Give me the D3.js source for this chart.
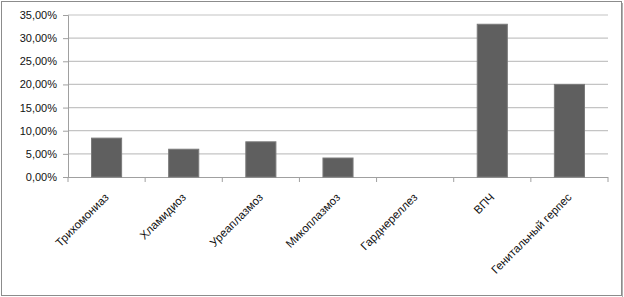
<!DOCTYPE html>
<html>
<head>
<meta charset="utf-8">
<script src="https://cdn.jsdelivr.net/npm/d3@7"></script>
<style>
  body { margin: 0; background: #fff; }
  svg { display: block; font-family: "Liberation Sans", Arial, sans-serif; }
</style>
</head>
<body>
<div id="chart"></div>
<script>
// Data
const categories = ["Трихомониаз", "Хламидиоз", "Уреаплазмоз", "Микоплазмоз", "Гарднереллез", "ВПЧ", "Генитальный герпес"];
const values = [8.4, 6.0, 7.6, 4.1, 0, 33.0, 20.0];
const yTicks = [0, 5, 10, 15, 20, 25, 30, 35];

const W = 624, H = 297;
const margin = { top: 15, right: 16, bottom: 120, left: 68 };
const width = W - margin.left - margin.right;
const height = H - margin.top - margin.bottom;

const root = d3.select("#chart").append("svg")
  .attr("width", W)
  .attr("height", H);

// outer frame
root.append("rect")
  .attr("x", 1.5).attr("y", 1.5)
  .attr("width", W - 4).attr("height", H - 3)
  .attr("fill", "#fff")
  .attr("stroke", "#8c8c8c")
  .attr("stroke-width", 1);
root.append("line")
  .attr("x1", W - 1.5).attr("x2", W - 1.5)
  .attr("y1", 3).attr("y2", H)
  .attr("stroke", "#b0b0b0");

const svg = root.append("g")
  .attr("transform", `translate(${margin.left},${margin.top})`);

const x = d3.scaleBand()
  .domain(categories)
  .range([0, width])
  .paddingInner(0.61)
  .paddingOuter(0.305);

const y = d3.scaleLinear()
  .domain([0, 35])
  .range([height, 0]);

// gridlines
svg.append("g")
  .selectAll("line")
  .data(yTicks.slice(1))
  .join("line")
    .attr("x1", 0).attr("x2", width)
    .attr("y1", d => y(d)).attr("y2", d => y(d))
    .attr("stroke", "#c4c4c4")
    .attr("stroke-width", 1.2);

// y axis
const yAxis = svg.append("g")
  .call(d3.axisLeft(y).tickValues(yTicks).tickSize(5).tickPadding(6)
    .tickFormat(d => d.toFixed(2).replace(".", ",") + "%"));
yAxis.select(".domain").attr("stroke", "#a0a0a0");
yAxis.selectAll(".tick line").attr("stroke", "#a0a0a0");
yAxis.selectAll("text").attr("font-size", 11).attr("fill", "#111")
  .attr("font-family", "Liberation Sans, Arial, sans-serif");

// x axis: ticks at category boundaries
const xAxis = svg.append("g").attr("transform", `translate(0,${height})`);
xAxis.append("line")
  .attr("x1", 0).attr("x2", width)
  .attr("y1", 0.5).attr("y2", 0.5)
  .attr("stroke", "#a0a0a0");
const step = x.step();
xAxis.selectAll("line.tk")
  .data(d3.range(categories.length + 1))
  .join("line")
    .attr("class", "tk")
    .attr("x1", i => i * step).attr("x2", i => i * step)
    .attr("y1", 0).attr("y2", 5)
    .attr("stroke", "#a0a0a0");

xAxis.selectAll("text")
  .data(categories)
  .join("text")
    .attr("transform", d => `translate(${x(d) + x.bandwidth() / 2 + 3},${21}) rotate(-45)`)
    .attr("text-anchor", "end")
    .attr("font-size", 11.5)
    .attr("fill", "#111")
    .text(d => d);

// bars
svg.append("g")
  .selectAll("rect")
  .data(categories.map((c, i) => ({ c, v: values[i] })))
  .join("rect")
    .attr("x", d => x(d.c))
    .attr("y", d => y(d.v))
    .attr("width", x.bandwidth())
    .attr("height", d => height - y(d.v))
    .attr("fill", "#5f5f5f")
    .attr("stroke", d => d.v > 0 ? "#7a7a7a" : "none")
    .attr("stroke-width", 1);
</script>
</body>
</html>
